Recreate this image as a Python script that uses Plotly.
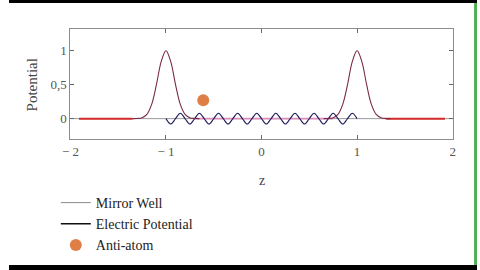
import plotly.graph_objects as go

# ---- data ----
mw_left_z = [-1.35, -1.30, -1.25, -1.20, -1.15, -1.10, -1.05, -1.00, -0.95, -0.90, -0.85, -0.80, -0.75, -0.70, -0.65]
mw_right_z = [0.65, 0.70, 0.75, 0.80, 0.85, 0.90, 0.95, 1.00, 1.05, 1.10, 1.15, 1.20, 1.25, 1.30, 1.35]
mw_peak_v = [0.0, 0.002, 0.013, 0.063, 0.21, 0.50, 0.84, 1.00, 0.84, 0.50, 0.21, 0.063, 0.013, 0.002, 0.0]

mw_flat_left_z = [-1.91, -1.35]
mw_flat_right_z = [1.30, 1.92]
mw_mid_z = [-0.70, 0.75]
flat_v = [0.0, 0.0]

base_z = [-2.0, 2.0]
base_v = [0.0, 0.0]

ep_z = [-1.00, -0.95, -0.90, -0.85, -0.80, -0.75, -0.70, -0.65, -0.60, -0.55,
        -0.50, -0.45, -0.40, -0.35, -0.30, -0.25, -0.20, -0.15, -0.10, -0.05,
        0.00, 0.05, 0.10, 0.15, 0.20, 0.25, 0.30, 0.35, 0.40, 0.45,
        0.50, 0.55, 0.60, 0.65, 0.70, 0.75, 0.80, 0.85, 0.90, 0.95, 1.00]
ep_v = [0, -0.08, 0, 0.08, 0, -0.08, 0, 0.08, 0, -0.08,
        0, 0.08, 0, -0.08, 0, 0.08, 0, -0.08, 0, 0.08,
        0, -0.08, 0, 0.08, 0, -0.08, 0, 0.08, 0, -0.08,
        0, 0.08, 0, -0.08, 0, 0.08, 0, -0.08, 0, 0.08, 0]

atom_z = [-0.61]
atom_v = [0.27]

x_ticks = [-2, -1, 0, 1, 2]
x_labels = ["\u2212 2", "\u2212 1", "0", "1", "2"]
y_ticks = [0, 0.5, 1]
y_labels = ["0", "0,5", "1"]

W, H = 480, 270
def px(v):
    return v / W
def py(v):
    return 1 - v / H

fig = go.Figure()
fig.add_trace(go.Scatter(x=base_z, y=base_v, mode="lines", line=dict(color="#9a9a9a", width=1), showlegend=False, hoverinfo="skip"))
fig.add_trace(go.Scatter(x=mw_mid_z, y=flat_v, mode="lines", line=dict(color="#dd8fba", width=1.6), showlegend=False))
fig.add_trace(go.Scatter(x=mw_flat_left_z, y=flat_v, mode="lines", line=dict(color="#d42a2a", width=2), showlegend=False))
fig.add_trace(go.Scatter(x=mw_flat_right_z, y=flat_v, mode="lines", line=dict(color="#d42a2a", width=2), showlegend=False))
fig.add_trace(go.Scatter(x=ep_z, y=ep_v, mode="lines", line=dict(color="#1c1c5c", width=1.1, shape="spline"), showlegend=False))
fig.add_trace(go.Scatter(x=mw_left_z, y=mw_peak_v, mode="lines", line=dict(color="#7a2a4a", width=1.1, shape="spline"), showlegend=False))
fig.add_trace(go.Scatter(x=mw_right_z, y=mw_peak_v, mode="lines", line=dict(color="#7a2a4a", width=1.1, shape="spline"), showlegend=False))
# legend entries
fig.add_trace(go.Scatter(x=[None], y=[None], mode="lines", name="Mirror Well", line=dict(color="#8a8a8a", width=1)))
fig.add_trace(go.Scatter(x=[None], y=[None], mode="lines", name="Electric Potential", line=dict(color="#111111", width=1.4)))
fig.add_trace(go.Scatter(x=atom_z, y=atom_v, mode="markers", name="Anti-atom", marker=dict(color="#e07f45", size=12)))

axis_common = dict(showgrid=False, zeroline=False, showline=True, linecolor="#8c8c8c", linewidth=1,
                   mirror="allticks", ticks="inside", ticklen=4, tickcolor="#666",
                   tickfont=dict(family="Liberation Serif", size=13, color="#555"))

fig.update_layout(
    width=W, height=H, margin=dict(l=0, r=0, t=0, b=0),
    paper_bgcolor="white", plot_bgcolor="white",
    xaxis=dict(domain=[px(63), px(455)], range=[-2, 2], tickvals=x_ticks, ticktext=x_labels, **axis_common),
    yaxis=dict(domain=[py(139), py(29)], range=[-0.3, 1.32], tickvals=y_ticks, ticktext=y_labels, **axis_common),
    legend=dict(x=px(48), y=py(187), xanchor="left", yanchor="top", itemwidth=30,
                font=dict(family="Liberation Serif", size=14, color="#222"), bgcolor="rgba(0,0,0,0)",
                tracegroupgap=0),
    annotations=[
        dict(text="z", x=px(259), y=py(180), xref="paper", yref="paper", showarrow=False,
             xanchor="center", yanchor="middle",
             font=dict(family="Liberation Serif", size=14, color="#444")),
        dict(text="Potential", x=px(24), y=py(85), xref="paper", yref="paper", showarrow=False, textangle=-90,
             xanchor="center", yanchor="middle",
             font=dict(family="Liberation Serif", size=15, color="#444")),
    ],
    shapes=[
        dict(type="rect", xref="paper", yref="paper", x0=0, x1=1, y0=py(3), y1=1, fillcolor="black", line=dict(width=0)),
        dict(type="rect", xref="paper", yref="paper", x0=0, x1=1, y0=0, y1=py(265), fillcolor="black", line=dict(width=0)),
        dict(type="rect", xref="paper", yref="paper", x0=px(477), x1=1, y0=py(265), y1=py(3), fillcolor="#4cb050", line=dict(width=0)),
    ],
)

fig.write_html("out.html")
